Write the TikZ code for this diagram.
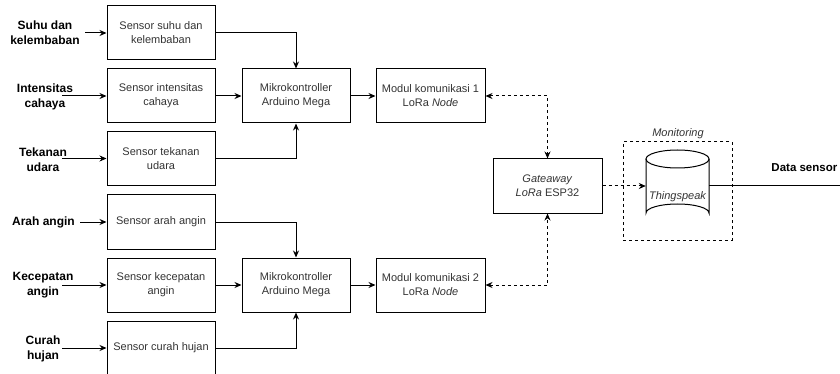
\documentclass[tikz,border=0pt]{standalone}
\usepackage{fontspec}
\setmainfont{Liberation Sans}
\usetikzlibrary{arrows.meta,positioning}
\definecolor{boxtext}{HTML}{333333}
\tikzset{
  blk/.style={draw=black, line width=1pt, minimum width=108pt, minimum height=54pt, inner sep=2pt,
    align=center, font=\fontsize{11}{14}\selectfont, text=boxtext},
  inlbl/.style={align=center, font=\fontsize{12}{15}\selectfont\bfseries, text=black, inner sep=0pt},
  arr/.style={line width=1pt, -{Stealth[length=7pt,width=6pt]}},
  darr/.style={line width=1pt, dash pattern=on 3pt off 3pt, {Stealth[length=7pt,width=6pt]}-{Stealth[length=7pt,width=6pt]}},
  darr1/.style={line width=1pt, dash pattern=on 3pt off 3pt, -{Stealth[length=7pt,width=6pt]}},
}
\begin{document}
\begin{tikzpicture}[x=1pt,y=-1pt]
\clip (0,0) rectangle (840,374);
% sensor boxes
\node[blk] (s1) at (161,33) {Sensor suhu dan\\kelembaban};
\node[blk] (s2) at (161,96) {Sensor intensitas\\cahaya};
\node[blk] (s3) at (161,158.5) {Sensor tekanan\\udara};
\node[blk] (s4) at (161,222) {Sensor arah angin};
\node[blk] (s5) at (161,285) {Sensor kecepatan\\angin};
\node[blk] (s6) at (161,348) {Sensor curah hujan};
% microcontrollers
\node[blk] (m1) at (296,96) {Mikrokontroller\\Arduino Mega};
\node[blk] (m2) at (296,285) {Mikrokontroller\\Arduino Mega};
% lora modules
\node[blk, minimum width=109pt] (k1) at (430.5,96) {Modul komunikasi 1\\LoRa \textit{Node}};
\node[blk, minimum width=109pt] (k2) at (430.5,285) {Modul komunikasi 2\\LoRa \textit{Node}};
% gateway
\node[blk, minimum width=109pt] (gw) at (547.5,186) {\textit{Gateaway}\\\textit{LoRa} ESP32};
% monitoring box
\node[draw=black, line width=1pt, dash pattern=on 3pt off 3pt, minimum width=109pt, minimum height=98pt, inner sep=0pt] (mon) at (677.5,191) {};
\node[font=\fontsize{11}{13}\selectfont\itshape, text=boxtext, anchor=base] (monl) at (678,137) {Monitoring};
% cylinder
\node[minimum width=63pt, minimum height=72pt, inner sep=0pt] (cyl) at (677.5,186) {};
\draw[line width=1pt, fill=white] (646,159) -- (646,213) arc[start angle=180, end angle=360, x radius=31.5, y radius=9] -- (709,159);
\draw[line width=1pt] (677.5,159) ellipse[x radius=31.5, y radius=9];
\node[font=\fontsize{11}{13}\selectfont\itshape, text=boxtext] (cylt) at (677.5,197) {Thingspeak};
% input labels
\node[inlbl] (l1) at (45,33) {Suhu dan\\kelembaban};
\node[inlbl] (l2) at (45,97) {Intensitas\\cahaya};
\node[inlbl] (l3) at (43,159.5) {Tekanan\\udara};
\node[inlbl] (l4) at (43.5,222) {Arah angin};
\node[inlbl] (l5) at (43,285.5) {Kecepatan\\angin};
\node[inlbl] (l6) at (43,348.5) {Curah\\hujan};
\coordinate (i1) at (85,33);
\coordinate (i2) at (62,96);
\coordinate (i3) at (62,158.5);
\coordinate (i4) at (80,222);
\coordinate (i5) at (62,285);
\coordinate (i6) at (62,348);
\draw[arr] (i1) -- (s1.west);
\draw[arr] (i2) -- (s2.west);
\draw[arr] (i3) -- (s3.west);
\draw[arr] (i4) -- (s4.west);
\draw[arr] (i5) -- (s5.west);
\draw[arr] (i6) -- (s6.west);
% sensors to micro
\draw[arr] (s1.east) -| (m1.north);
\draw[arr] (s2.east) -- (m1.west);
\draw[arr] (s3.east) -| (m1.south);
\draw[arr] (s4.east) -| (m2.north);
\draw[arr] (s5.east) -- (m2.west);
\draw[arr] (s6.east) -| (m2.south);
% micro to modules
\draw[arr] (m1.east) -- (k1.west);
\draw[arr] (m2.east) -- (k2.west);
% modules to gateway
\draw[darr] (k1.east) -| (gw.north);
\draw[darr] (k2.east) -| (gw.south);
% gateway to thingspeak
\draw[darr1] (gw.east) -- (cyl.west);
% output
\coordinate (out) at (840,186);
\draw[line width=1pt] (cyl.east) -- (out);
\node[font=\fontsize{11.5}{14}\selectfont\bfseries, anchor=base east, inner sep=0pt] (ds) at (837.5,172) {Data sensor};
\end{tikzpicture}
\end{document}
